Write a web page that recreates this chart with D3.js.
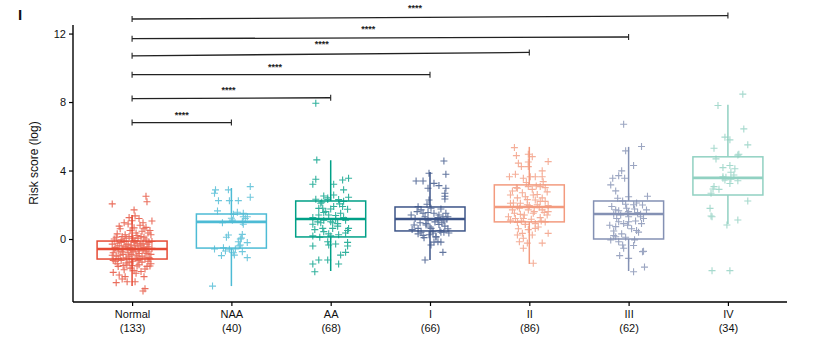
<!DOCTYPE html>
<html><head><meta charset="utf-8">
<script src="https://cdn.jsdelivr.net/npm/d3@7"></script>
<style>body{margin:0;background:#fff}svg{display:block;font-family:"Liberation Sans",Arial,sans-serif}</style>
</head><body><svg id="c" width="832" height="342"></svg>
<script>
const categories = ["Normal","NAA","AA","I","II","III","IV"];
const counts = [133,40,68,66,86,62,34];
const colors = ["#E64B35","#4DBBD5","#00A087","#3C5488","#F39B7F","#8491B4","#91D1C2"];
const yTicks = [0,4,8,12];
// box stats: [whiskerLow, q1, median, q3, whiskerHigh]
const boxStats = [
  [-2.75,-1.17,-0.58,-0.12,1.4],
  [-2.75,-0.53,1.0,1.46,2.98],
  [-1.87,0.12,1.17,2.22,4.6],
  [-1.23,0.47,1.17,1.87,3.92],
  [-1.46,1.0,1.87,3.16,5.38],
  [-1.87,0.0,1.46,2.22,5.38],
  [0.88,2.57,3.57,4.8,7.84]
];
// jittered points: [jitter (fraction of category step), value]
const ptsNormal = [[-0.20,2.05],[0.14,2.5],[0.15,2.18],[0.02,1.7],[0.03,1.35],[0.2,1.05],[0.14,0.68],[-0.04,0.88],[0,1.07],
[-0.19,-1.95],[-0.16,-2.55],[-0.1,-2.34],[0.03,-2.5],[0.13,-2.9],[0.11,-3.04],[0.18,-1.58],[0.17,-1.09],[0.05,-1.58],[-0.06,-1.52],
[-0.08,0.95],[-0.12,0.6],[0.08,0.8],[0.1,0.45],[-0.15,0.3],[-0.02,0.5],[0.05,0.2],[0.16,0.35],[-0.1,0.15],[0.12,0.1],[-0.06,0.05],[0.19,0.25],[-0.18,0.0],[0.02,0.65],[0.07,1.2],[-0.03,1.25],[0.11,0.95],[-0.13,0.75],
[-0.2,-0.3],[-0.17,-0.5],[-0.14,-0.7],[-0.11,-0.2],[-0.09,-0.9],[-0.07,-0.45],[-0.05,-0.6],[-0.03,-1.0],[-0.01,-0.35],[0.01,-0.75],[0.03,-0.55],[0.05,-0.25],[0.07,-0.85],[0.09,-0.4],[0.11,-0.65],[0.13,-1.1],[0.15,-0.3],[0.17,-0.6],[0.19,-0.9],[0.2,-0.15],
[-0.19,-0.8],[-0.16,-1.0],[-0.13,-0.4],[-0.1,-0.6],[-0.08,-0.15],[-0.06,-1.1],[-0.04,-0.8],[-0.02,-0.5],[0,-0.65],[0.02,-0.2],[0.04,-0.95],[0.06,-0.6],[0.08,-0.3],[0.1,-1.0],[0.12,-0.5],[0.14,-0.75],[0.16,-0.45],[0.18,-1.15],[-0.12,-0.95],[0.0,-1.15],
[-0.18,-0.6],[-0.15,-0.25],[-0.09,-0.55],[-0.04,-0.3],[0.03,-0.4],[0.07,-0.7],[0.11,-0.25],[0.15,-0.85],[-0.01,-0.9],[0.05,-1.05],
[-0.17,-1.3],[-0.14,-1.6],[-0.11,-1.25],[-0.08,-1.8],[-0.05,-1.4],[-0.02,-1.7],[0.01,-1.3],[0.04,-2.0],[0.07,-1.5],[0.1,-1.35],[0.13,-1.75],[0.16,-1.3],[0.19,-1.45],[-0.13,-2.1],[-0.07,-2.2],[0.0,-1.55],[0.06,-1.25],[0.09,-1.9],[-0.03,-1.35],[-0.15,-1.45],[0.12,-2.2],[-0.09,-1.55],[0.02,-1.85],[0.15,-1.6],[-0.19,-1.25],[-0.05,-2.5],
[-0.16,0.1],[-0.07,0.25],[0.01,0.05],[0.09,0.15],[0.14,0.0],[-0.11,-0.05],[0.04,0.35],[0.18,0.5],[-0.03,0.15],[0.06,0.05],
[-0.2,-0.95],[0.2,-0.55],[-0.1,-0.75],[0.03,-0.1],[0.08,-1.15],[-0.14,-1.15],[0.17,-0.2],[-0.06,-0.35],[0.12,0.6],[-0.01,-0.55]];
const ptsNAA = [[-0.16,2.87],[-0.17,2.67],[-0.03,2.87],[0.19,3.06],[0.19,2.44],[-0.13,2.24],[-0.02,2.24],[0.07,2.24],[-0.14,1.64],[0.02,1.44],[0.06,1.56],[0.12,1.5],[0.16,1.3],[0,1.21],[0.11,0.97],[-0.09,0.95],[0.12,0.86],[-0.03,0.23],[0.11,0.27],[0.09,0.0],[0.07,-0.16],[0.16,-0.21],[0.09,-0.35],[-0.17,-0.58],[-0.08,-0.51],[-0.06,-0.7],[0.04,-0.58],[0.11,-0.74],[0.03,-0.94],[-0.1,-0.97],[0.02,-0.8],[0.16,-1.09],[-0.19,-2.75],[0.01,1.1],[0.14,1.2],
[-0.05,0.1],[0.08,-0.4],[0.12,1.3],[-0.02,-0.6],[0.1,0.05]];
const ptsAA = [[-0.15,7.93],[-0.14,4.62],[-0.15,3.49],[-0.18,3.2],[0.12,3.45],[0.18,3.55],[0.03,3.2],[0.13,2.87],[-0.07,2.51],[0.03,2.57],[0.18,2.44],[-0.15,2.32],[-0.1,2.09],[-0.03,2.4],[0.08,2.3],[0.13,2.2],[-0.12,1.79],[-0.08,1.8],[0.17,1.74],[-0.12,1.4],[-0.02,1.4],[0.05,1.37],[-0.18,1.25],[-0.07,1.1],[0,1.01],[0.15,1.1],[-0.18,0.86],[-0.1,0.95],[0.07,0.9],[-0.08,0.62],[0.02,0.62],[0.18,0.62],[-0.07,0.43],[0.17,0.5],[-0.18,0.18],[0,0.18],[0.08,0.25],[-0.03,-0.16],[0.05,-0.29],[0.17,-0.2],[-0.18,-0.41],[-0.02,-0.35],[0.17,-0.41],[0.15,-0.78],[0.1,-0.94],[-0.12,-1.23],[-0.03,-1.23],[-0.18,-1.46],[0.08,-1.46],[-0.16,-1.91],
[-0.05,1.6],[0.03,1.9],[0.1,1.5],[-0.13,1.0],[0.07,0.75],[-0.02,0.3],[0.12,1.9],[-0.09,2.15],[0.0,1.75],[0.15,0.35],[-0.16,0.55],[0.05,1.2],[-0.07,1.55],[0.09,2.05],[-0.11,0.1],[0.02,0.95],[0.13,1.25],[-0.03,2.3]];
const ptsI = [[0.14,4.56],[0.16,3.78],[-0.01,3.84],[-0.14,3.39],[-0.07,3.39],[0.04,3.25],[0.09,3.12],[-0.02,2.96],[0.16,2.96],[0.15,2.67],[0.15,2.5],[0.15,2.34],[-0.01,2.28],[-0.03,2.03],[-0.12,1.89],[-0.09,1.7],[-0.07,1.5],[-0.19,1.4],[0.04,1.5],[0.09,1.4],[0.16,1.5],[0.13,1.3],[0.18,1.3],[-0.02,1.1],[0.08,1.1],[0.14,1.05],[-0.16,0.82],[-0.04,0.82],[0.09,0.85],[-0.12,0.62],[0.01,0.62],[0.18,0.6],[-0.09,0.39],[0.03,0.35],[0.11,0.39],[0.19,0.35],[-0.06,0.08],[-0.01,0.25],[0.06,0.15],[0.08,-0.16],[0.11,-0.18],[0.04,-0.18],[0.01,-0.35],[0.13,-0.78],[-0.05,-1.23],
[-0.15,1.2],[-0.1,0.95],[-0.05,1.3],[0.0,0.7],[0.05,1.0],[0.1,0.5],[0.15,0.75],[-0.18,0.55],[-0.12,0.3],[-0.02,1.55],[0.03,0.45],[0.08,1.25],[0.12,0.95],[0.17,1.15],[-0.07,0.2],[0.01,1.8],[-0.13,1.6],[0.06,0.1],[0.11,1.75],[-0.04,0.9],[0.14,0.4]];
const ptsII = [[-0.15,5.34],[-0.01,4.95],[0.03,4.81],[-0.13,4.87],[0.19,4.52],[-0.11,4.43],[-0.01,4.5],[-0.08,4.23],[-0.01,4.23],[0.13,3.98],[-0.14,3.78],[-0.2,3.64],[-0.06,3.55],[0.01,3.64],[0.06,3.64],[0.13,3.64],[0.14,3.35],[0.11,3.06],[-0.12,2.96],[-0.01,3.06],[-0.19,2.57],[-0.04,2.47],[0.04,2.57],[0.06,2.28],[0.16,2.2],[-0.19,2.09],[-0.09,2.09],[-0.12,1.89],[-0.02,2.0],[0.08,2.0],[-0.17,1.7],[-0.01,1.7],[0.13,1.7],[0.19,1.6],[-0.09,1.44],[0.04,1.5],[0.18,1.4],[-0.21,1.3],[-0.14,1.2],[-0.06,1.2],[0.11,1.25],[-0.12,0.97],[-0.04,0.86],[0.06,0.9],[0.16,1.0],[0.06,0.62],[-0.01,0.55],[0.19,0.33],[-0.07,0.33],[-0.12,0.23],[0.03,0.23],[-0.06,0.04],[-0.1,-0.16],[-0.02,-0.24],[0.13,-0.24],[-0.06,-0.54],[0.04,-1.42],
[-0.17,2.8],[-0.12,2.4],[-0.07,2.7],[-0.02,2.3],[0.03,2.9],[0.08,2.6],[0.13,2.4],[0.18,2.75],[-0.15,1.5],[-0.1,1.8],[-0.05,1.4],[0.0,1.95],[0.05,1.6],[0.1,1.85],[0.15,1.55],[0.19,1.95],[-0.19,1.1],[-0.08,1.05],[0.02,1.15],[0.12,1.05],[-0.13,3.0],[0.07,3.1],[-0.03,3.3],[0.16,3.0],[-0.11,0.6],[0.09,0.7],[-0.04,0.85],[0.11,2.2],[-0.16,2.1]];
const ptsIII = [[-0.05,6.7],[0.13,5.4],[-0.03,5.15],[0.05,4.29],[-0.07,3.98],[-0.1,3.7],[-0.16,3.55],[-0.04,3.55],[-0.18,3.16],[-0.13,2.81],[0,2.47],[0.19,2.5],[-0.11,2.38],[-0.06,2.22],[-0.03,2.03],[0.14,1.99],[-0.13,1.7],[0,1.6],[0.09,1.55],[-0.15,1.44],[-0.08,1.4],[-0.01,1.5],[0.12,1.3],[-0.1,1.01],[0,1.01],[0.07,1.05],[-0.13,0.72],[-0.01,0.8],[-0.15,0.47],[0.08,0.5],[-0.13,0.13],[-0.18,-0.06],[-0.1,-0.16],[0.06,-0.05],[-0.06,-0.35],[0.05,-0.38],[-0.05,-0.54],[0.14,-0.74],[0.15,-0.72],[-0.09,-0.97],[0,-1.13],[0.16,-1.64],[0.05,-1.91],
[-0.17,1.9],[-0.12,1.2],[-0.07,0.3],[-0.02,1.8],[0.03,0.6],[0.08,2.1],[0.13,0.9],[0.18,1.7],[-0.15,0.2],[-0.1,1.65],[-0.05,0.9],[0.0,1.3],[0.05,2.0],[0.1,0.4],[0.15,1.2],[-0.19,0.8],[0.06,1.75],[-0.03,0.1],[0.12,1.45]];
const ptsIV = [[0.15,8.46],[-0.1,7.8],[0.16,6.43],[-0.03,5.95],[0.02,5.79],[0.2,5.5],[-0.14,5.3],[0.11,4.95],[0.1,4.9],[-0.12,4.68],[-0.05,4.17],[0.02,4.29],[0.03,3.9],[0.06,3.74],[-0.05,3.64],[-0.03,3.45],[0.02,3.24],[-0.14,3.06],[-0.15,2.92],[-0.09,2.9],[-0.17,2.67],[0.2,2.22],[-0.18,1.79],[-0.17,1.34],[-0.16,1.3],[0.1,1.11],[-0.01,0.82],[-0.16,-1.85],[0.02,-1.85],
[0.03,3.5],[-0.05,3.55],[0.1,3.4],[-0.02,3.6],[0.07,4.1]];
const points = [ptsNormal,ptsNAA,ptsAA,ptsI,ptsII,ptsIII,ptsIV];
// significance brackets vs Normal: [target index, left y, right y]
const brackets = [[1,6.8,6.8],[2,8.2,8.25],[3,9.6,9.6],[4,10.7,10.9],[5,11.7,11.8],[6,12.85,13.05]];
const sigLabel = "****";

const svg = d3.select("#c");
const x = d3.scalePoint().domain(categories).range([73,787]).padding(0.595);
const step = x.step();
const y = d3.scaleLinear().domain([-3.68,12.5]).range([302,25]);

// axes
const ya = svg.append("g").attr("transform","translate(73,0)").call(d3.axisLeft(y).tickValues(yTicks).tickSize(4).tickPadding(3));
ya.select(".domain").attr("stroke","#000").attr("stroke-width",1.4).attr("d",`M0,${y(12.5)}V${y(-3.68)}`);
ya.selectAll(".tick line").attr("stroke-width",1.2);
ya.selectAll("text").attr("font-size",11).attr("fill","#111");
const xa = svg.append("g").attr("transform","translate(0,302)").call(d3.axisBottom(x).tickSize(4).tickPadding(4).tickFormat(""));
xa.select(".domain").attr("stroke","#000").attr("stroke-width",1.4).attr("d","M73,0H787");
xa.selectAll(".tick line").attr("stroke-width",1.2);
xa.selectAll(".tick").each(function(d,i){
  const t = d3.select(this).append("text").attr("fill","#111").attr("font-size",11).attr("text-anchor","middle");
  t.append("tspan").attr("x",0).attr("y",16).text(d);
  t.append("tspan").attr("x",0).attr("y",30).text("("+counts[i]+")");
});

svg.append("text").attr("transform","translate(38,163) rotate(-90)").attr("text-anchor","middle").attr("font-size",12).attr("fill","#111").text("Risk score (log)");
svg.append("text").attr("x",18).attr("y",20).attr("font-size",15).attr("font-weight","bold").attr("fill","#111").text("I");

// boxes
const bw = 70;
categories.forEach((c,i)=>{
  const s = boxStats[i], cx = x(c), col = colors[i];
  const g = svg.append("g").attr("stroke",col).attr("fill","none");
  g.append("line").attr("x1",cx).attr("x2",cx).attr("y1",y(s[0])).attr("y2",y(s[1])).attr("stroke-width",1.5);
  g.append("line").attr("x1",cx).attr("x2",cx).attr("y1",y(s[3])).attr("y2",y(s[4])).attr("stroke-width",1.5);
  g.append("rect").attr("x",cx-bw/2).attr("width",bw).attr("y",y(s[3])).attr("height",y(s[1])-y(s[3])).attr("stroke-width",1.5);
  g.append("line").attr("x1",cx-bw/2).attr("x2",cx+bw/2).attr("y1",y(s[2])).attr("y2",y(s[2])).attr("stroke-width",2.6);
});
// points
categories.forEach((c,i)=>{
  const g = svg.append("g").attr("stroke",colors[i]).attr("stroke-width",1.1).attr("opacity",0.8);
  g.selectAll("path").data(points[i]).join("path")
    .attr("d",d=>{const px=x(c)+d[0]*step, py=y(d[1]); return `M${px-3.5},${py}H${px+3.5}M${px},${py-3.5}V${py+3.5}`;});
});
// brackets
const bg = svg.append("g");
brackets.forEach(b=>{
  const x0 = x(categories[0]), x1 = x(categories[b[0]]);
  const y0 = y(b[1]), y1 = y(b[2]);
  bg.append("line").attr("x1",x0).attr("x2",x1).attr("y1",y0).attr("y2",y1).attr("stroke","#222").attr("stroke-width",1.3);
  bg.append("line").attr("x1",x0).attr("x2",x0).attr("y1",y0-3).attr("y2",y0+3).attr("stroke","#222").attr("stroke-width",1.1);
  bg.append("line").attr("x1",x1).attr("x2",x1).attr("y1",y1-3).attr("y2",y1+3).attr("stroke","#222").attr("stroke-width",1.1);
  bg.append("text").attr("x",(x0+x1)/2 - (b[0]-1)*3).attr("y",Math.min(y0,y1)-5).attr("text-anchor","middle").attr("font-size",9).attr("font-weight","bold").attr("fill","#222").text(sigLabel);
});
</script></body></html>
